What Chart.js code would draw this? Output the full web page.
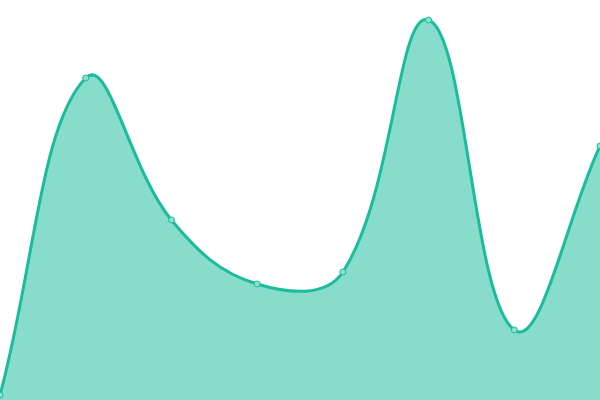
<!DOCTYPE html>
<html>
<head>
<meta charset="utf-8">
<script src="https://cdn.jsdelivr.net/npm/chart.js@4"></script>
<style>
  html, body { margin: 0; padding: 0; background: #fff; }
  #wrap { width: 600px; height: 400px; }
</style>
</head>
<body>
<div id="wrap"><canvas id="AreaGraph"></canvas></div>
<script>
const labels = ['1', '2', '3', '4', '5', '6', '7', '8'];
const values = [1.25, 80.5, 45, 29, 32, 95, 17.5, 63.5];

const ctx = document.getElementById('AreaGraph');

new Chart(ctx, {
    type: 'line',
    data: {
        labels: labels,
        datasets: [{
            data: values,
            fill: true,
            borderColor: '#1abc9c',
            backgroundColor: 'rgba(26, 188, 156, 0.52)',
            borderWidth: 3,
            tension: 0.4,
            pointRadius: 3,
            pointBorderWidth: 1,
            pointBackgroundColor: '#8de0cf',
            pointBorderColor: '#1abc9c'
        }]
    },
    options: {
        responsive: true,
        maintainAspectRatio: false,
        animation: false,
        layout: { padding: 0, autoPadding: false },
        plugins: {
            legend: { display: false },
            tooltip: { enabled: false }
        },
        scales: {
            x: { display: false, offset: false },
            y: { display: false, min: 0, max: 100 }
        }
    }
});
</script>
</body>
</html>
